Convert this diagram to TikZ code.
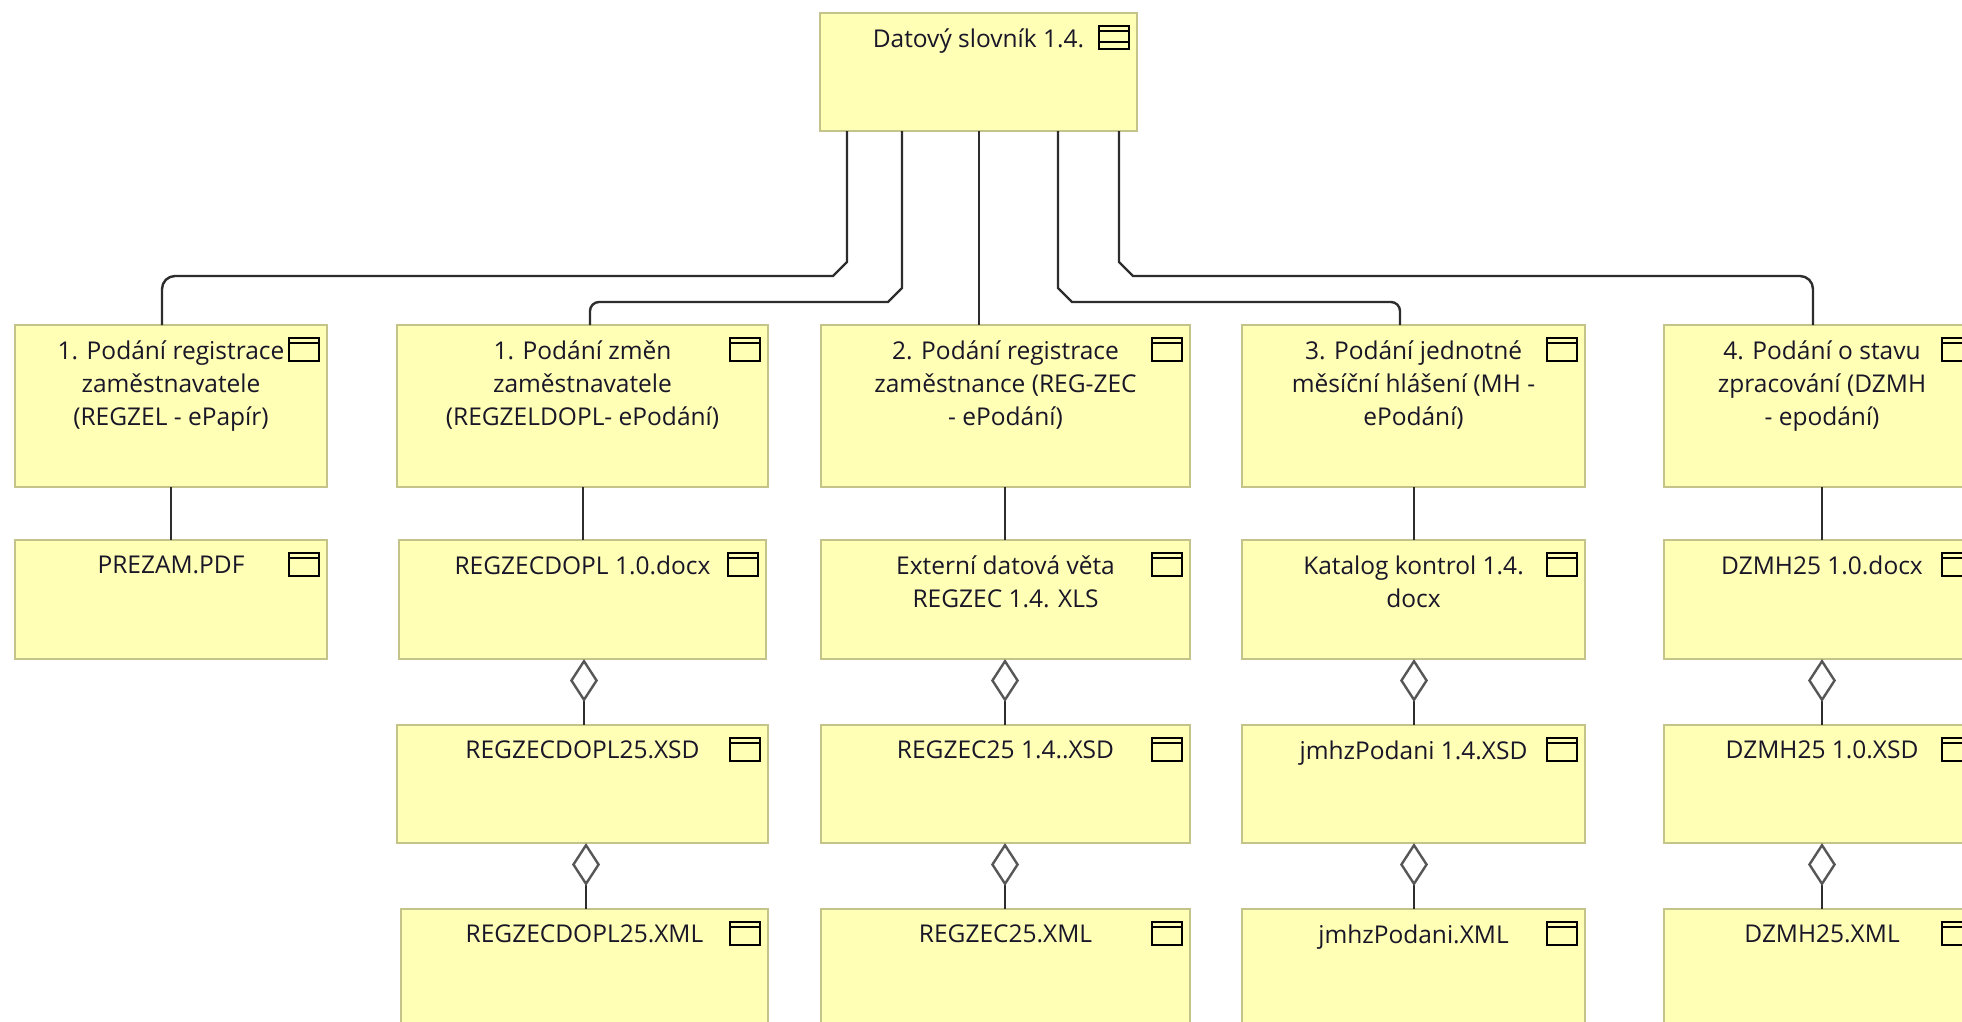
\documentclass[tikz,border=0pt]{standalone}
\usepackage{fontspec}
\setmainfont{Open Sans}
\usetikzlibrary{arrows.meta}
\definecolor{boxfill}{RGB}{255,255,181}
\definecolor{boxline}{RGB}{196,196,138}
\definecolor{wire}{RGB}{45,45,45}
\definecolor{ink}{RGB}{25,22,40}
\tikzset{
  artifact/.style={draw=boxline,fill=boxfill,line width=2pt,inner sep=0pt,outer sep=0pt},
  caption/.style={anchor=north,align=center,inner sep=0pt,text=ink,font=\fontsize{24.5}{33}\selectfont},
  wirepath/.style={draw=wire,line width=2.4pt},
  aggr/.style={wirepath,{Diamond[open,length=43pt,width=28pt,line width=2.4pt,color=wire!80]}-}
}
\begin{document}
\begin{tikzpicture}[x=1pt,y=-1pt]
  \clip (0,0) rectangle (1962,1021);
  \fill[white] (0,0) rectangle (1962,1021);
  \foreach \name/\xa/\ya/\xb/\yb/\txt in {
    slovnik/820/13/1137/131/{Datový slovník 1.4.},
    regzel/15/325/327/487/{1. Podání registrace\\zaměstnavatele\\(REGZEL - ePapír)},
    zmeny/397/325/768/487/{1. Podání změn\\zaměstnavatele\\(REGZELDOPL- ePodání)},
    zec/821/325/1190/487/{2. Podání registrace\\zaměstnance (REG-ZEC\\- ePodání)},
    mh/1242/325/1585/487/{3. Podání jednotné\\měsíční hlášení (MH -\\ePodání)},
    dzmh/1664/325/1980/487/{4. Podání o stavu\\zpracování (DZMH\\- epodání)},
    prezam/15/540/327/659/{PREZAM.PDF},
    zecdocx/399/540/766/659/{REGZECDOPL 1.0.docx},
    zecxls/821/540/1190/659/{Externí datová věta\\REGZEC 1.4. XLS},
    mhdocx/1242/540/1585/659/{Katalog kontrol 1.4.\\docx},
    dzmhdocx/1664/540/1980/659/{DZMH25 1.0.docx},
    doplxsd/397/725/768/843/{REGZECDOPL25.XSD},
    zecxsd/821/725/1190/843/{REGZEC25 1.4..XSD},
    mhxsd/1242/725/1585/843/{jmhzPodani 1.4.XSD},
    dzmhxsd/1664/725/1980/843/{DZMH25 1.0.XSD},
    doplxml/401/909/768/1040/{REGZECDOPL25.XML},
    zecxml/821/909/1190/1040/{REGZEC25.XML},
    mhxml/1242/909/1585/1040/{jmhzPodani.XML},
    dzmhxml/1664/909/1980/1040/{DZMH25.XML}%
  }{
    \node[artifact,minimum width=\xb-\xa,minimum height=\yb-\ya] (\name) at ({(\xa+\xb)/2},{(\ya+\yb)/2}) {};
    \node[caption] (\name-text) at ([yshift=-15.5pt]\name.north) {\txt};
    \draw[wirepath,draw=black] ([shift={(-38,13)}]\name.north east) rectangle ([shift={(-8,36)}]\name.north east);
    \draw[wirepath,draw=black] ([shift={(-38,18)}]\name.north east) -- ([shift={(-8,18)}]\name.north east);
  }
  % second stripe of the top icon
  \draw[wirepath,draw=black] ([shift={(-38,29)}]slovnik.north east) -- ([shift={(-8,29)}]slovnik.north east);

  % top box to the first row
  \draw[wirepath] (847,0 |- slovnik.south) -- (847,262) -- (833,276) -- (300,276) [rounded corners=13pt] -- (162,276) -- (162,0 |- regzel.north);
  \draw[wirepath] (902,0 |- slovnik.south) -- (902,288) -- (888,302) -- (700,302) [rounded corners=9pt] -- (590,302) -- (590,0 |- zmeny.north);
  \draw[wirepath] (979,0 |- slovnik.south) -- (979,0 |- zec.north);
  \draw[wirepath] (1058,0 |- slovnik.south) -- (1058,288) -- (1072,302) -- (1300,302) [rounded corners=9pt] -- (1400,302) -- (1400,0 |- mh.north);
  \draw[wirepath] (1119,0 |- slovnik.south) -- (1119,262) -- (1133,276) -- (1700,276) [rounded corners=13pt] -- (1813,276) -- (1813,0 |- dzmh.north);

  % first row to second row
  \foreach \a/\b/\x in {regzel/prezam/171,zmeny/zecdocx/583,zec/zecxls/1005,mh/mhdocx/1414,dzmh/dzmhdocx/1822}
    \draw[wirepath] (\x,0 |- \a.south) -- (\x,0 |- \b.north);

  % the diamonds
  \foreach \a/\b/\x in {zecdocx/doplxsd/584,doplxsd/doplxml/586,zecxls/zecxsd/1005,zecxsd/zecxml/1005,mhdocx/mhxsd/1414,mhxsd/mhxml/1414,dzmhdocx/dzmhxsd/1822,dzmhxsd/dzmhxml/1822}
    \draw[aggr] (\x,0 |- \a.south) -- (\x,0 |- \b.north);
\end{tikzpicture}
\end{document}
